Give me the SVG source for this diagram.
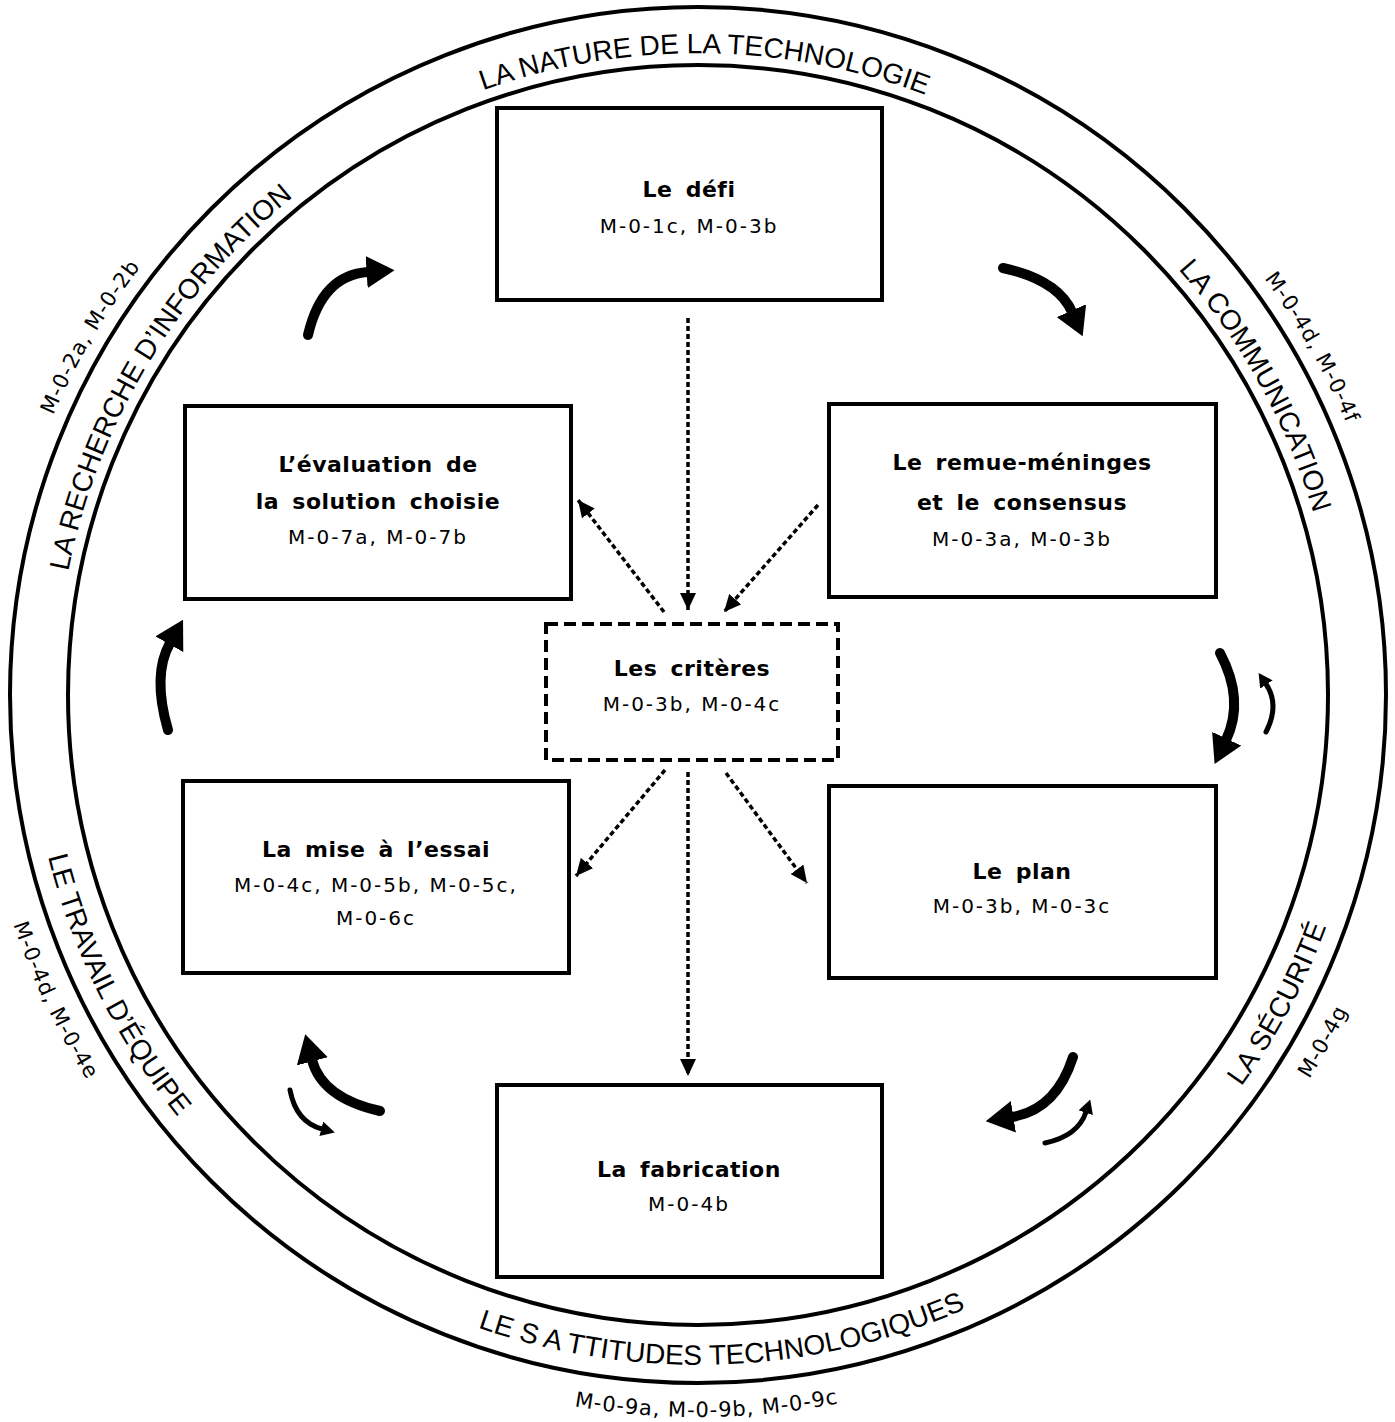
<svg xmlns="http://www.w3.org/2000/svg" width="1395" height="1422" viewBox="0 0 1395 1422">
<style>
  .box { fill: #fff; stroke: #000; stroke-width: 4; }
  .dbox { fill: #fff; stroke: #000; stroke-width: 4; stroke-dasharray: 12 6; }
  .ring { fill: none; stroke: #000; stroke-width: 4; }
  .title { font-family: 'Comic Sans MS', 'DejaVu Sans', sans-serif; font-weight: bold; font-size: 22px; text-anchor: middle; fill: #000; letter-spacing: 0.5px; word-spacing: 5px; }
  .code { font-family: 'Comic Sans MS', 'DejaVu Sans', sans-serif; font-size: 20px; text-anchor: middle; fill: #000; letter-spacing: 2px; }
  .rt { font-family: 'Liberation Sans', Arial, sans-serif; font-size: 28px; fill: #000; }
  .rc { font-family: 'Comic Sans MS', 'DejaVu Sans', sans-serif; font-size: 21px; fill: #000; letter-spacing: 1px; }
  .thick { fill: none; stroke: #000; stroke-width: 10; stroke-linecap: round; }
  .thin { fill: none; stroke: #000; stroke-width: 5; stroke-linecap: round; }
  .dash { fill: none; stroke: #000; stroke-width: 3.5; stroke-dasharray: 5 3; }
</style>
<defs>
  <path id="top642" d="M56,695 A642,642 0 0 1 1340,695"/>
  <path id="top703" d="M-5,695 A703,703 0 0 1 1401,695"/>
  <path id="bot670" d="M28,695 A670,670 0 0 0 1368,695"/>
  <path id="bot722" d="M-24,695 A722,722 0 0 0 1420,695"/>
  <marker id="hk" viewBox="0 0 10 10" refX="0.5" refY="5" markerWidth="2.8" markerHeight="3.2" preserveAspectRatio="none" orient="auto" markerUnits="strokeWidth">
    <path d="M0,0 L10,5 L0,10 Z" fill="#000"/>
  </marker>
  <marker id="hn" viewBox="0 0 10 10" refX="0.5" refY="5" markerWidth="2.8" markerHeight="3" preserveAspectRatio="none" orient="auto" markerUnits="strokeWidth">
    <path d="M0,0 L10,5 L0,10 Z" fill="#000"/>
  </marker>
  <marker id="hd" viewBox="0 0 10 10" refX="10" refY="5" markerWidth="17" markerHeight="16" preserveAspectRatio="none" orient="auto" markerUnits="userSpaceOnUse">
    <path d="M0,0 L10,5 L0,10 Z" fill="#000"/>
  </marker>
</defs>

<g id="rings">
  <circle class="ring" cx="698" cy="695" r="688"/>
  <circle class="ring" cx="698" cy="695" r="630"/>
</g>

<g id="ring-labels">
  <text class="rt" transform="rotate(0.6 698 695)"><textPath href="#top642" startOffset="50%" text-anchor="middle">LA NATURE DE LA TECHNOLOGIE</textPath></text>
  <text class="rt" transform="rotate(-59 698 695)"><textPath href="#top642" startOffset="50%" text-anchor="middle">LA RECHERCHE D’INFORMATION</textPath></text>
  <text class="rc" transform="rotate(-59.5 698 695)"><textPath href="#top703" startOffset="50%" text-anchor="middle">M-0-2a, M-0-2b</textPath></text>
  <text class="rt" transform="rotate(61 698 695)"><textPath href="#top642" startOffset="50%" text-anchor="middle">LA COMMUNICATION</textPath></text>
  <text class="rc" transform="rotate(60.5 698 695)"><textPath href="#top703" startOffset="50%" text-anchor="middle">M-0-4d, M-0-4f</textPath></text>
  <text class="rt" transform="rotate(-2.2 698 695)"><textPath href="#bot670" startOffset="50%" text-anchor="middle">LE S A TTITUDES TECHNOLOGIQUES</textPath></text>
  <text class="rc" transform="rotate(-0.7 698 695)"><textPath href="#bot722" startOffset="50%" text-anchor="middle">M-0-9a, M-0-9b, M-0-9c</textPath></text>
  <text class="rt" transform="rotate(63.5 698 695)"><textPath href="#bot670" startOffset="50%" text-anchor="middle">LE TRAVAIL D’ÉQUIPE</textPath></text>
  <text class="rc" transform="rotate(64.6 698 695)"><textPath href="#bot722" startOffset="50%" text-anchor="middle">M-0-4d, M-0-4e</textPath></text>
  <text class="rt" transform="rotate(-62 698 695)"><textPath href="#bot670" startOffset="50%" text-anchor="middle">LA SÉCURITÉ</textPath></text>
  <text class="rc" transform="rotate(-61 698 695)"><textPath href="#bot722" startOffset="50%" text-anchor="middle">M-0-4g</textPath></text>
</g>

<g id="connectors">
  <path class="dash" d="M688,318 L688,610" marker-end="url(#hd)"/>
  <path class="dash" d="M818,505 L724,612" marker-end="url(#hd)"/>
  <path class="dash" d="M664,612 L578,500" marker-end="url(#hd)"/>
  <path class="dash" d="M665,770 L576,876" marker-end="url(#hd)"/>
  <path class="dash" d="M688,772 L688,1076" marker-end="url(#hd)"/>
  <path class="dash" d="M726,773 L807,883" marker-end="url(#hd)"/>

  <path class="thick" d="M308,335 Q322,275 368,272" marker-end="url(#hk)"/>
  <path class="thick" d="M1003,268 Q1058,280 1072,312" marker-end="url(#hk)"/>
  <path class="thick" d="M1220,653 Q1245,700 1226,740" marker-end="url(#hk)"/>
  <path class="thin" d="M1266,732 Q1280,705 1266,684" marker-end="url(#hn)"/>
  <path class="thick" d="M1073,1057 Q1056,1110 1012,1117" marker-end="url(#hk)"/>
  <path class="thin" d="M1045,1143 Q1078,1136 1086,1112" marker-end="url(#hn)"/>
  <path class="thick" d="M380,1111 Q322,1098 312,1060" marker-end="url(#hk)"/>
  <path class="thin" d="M290,1090 Q296,1122 322,1129" marker-end="url(#hn)"/>
  <path class="thick" d="M168,730 Q152,675 170,643" marker-end="url(#hk)"/>
</g>

<g id="node-defi">
  <rect class="box" x="497" y="108" width="385" height="192"/>
  <text class="title" x="689" y="197">Le défi</text>
  <text class="code" x="689" y="233">M-0-1c, M-0-3b</text>
</g>

<g id="node-remue">
  <rect class="box" x="829" y="404" width="387" height="193"/>
  <text class="title" x="1022" y="470">Le remue-méninges</text>
  <text class="title" x="1022" y="510">et le consensus</text>
  <text class="code" x="1022" y="546">M-0-3a, M-0-3b</text>
</g>

<g id="node-evaluation">
  <rect class="box" x="185" y="406" width="386" height="193"/>
  <text class="title" x="378" y="472">L’évaluation de</text>
  <text class="title" x="378" y="509">la solution choisie</text>
  <text class="code" x="378" y="544">M-0-7a, M-0-7b</text>
</g>

<g id="node-criteres">
  <rect class="dbox" x="546" y="624" width="292" height="136"/>
  <text class="title" x="692" y="676">Les critères</text>
  <text class="code" x="692" y="711">M-0-3b, M-0-4c</text>
</g>

<g id="node-essai">
  <rect class="box" x="183" y="781" width="386" height="192"/>
  <text class="title" x="376" y="857">La mise à l’essai</text>
  <text class="code" x="376" y="892">M-0-4c, M-0-5b, M-0-5c,</text>
  <text class="code" x="376" y="925">M-0-6c</text>
</g>

<g id="node-plan">
  <rect class="box" x="829" y="786" width="387" height="192"/>
  <text class="title" x="1022" y="879">Le plan</text>
  <text class="code" x="1022" y="913">M-0-3b, M-0-3c</text>
</g>

<g id="node-fabrication">
  <rect class="box" x="497" y="1085" width="385" height="192"/>
  <text class="title" x="689" y="1177">La fabrication</text>
  <text class="code" x="689" y="1211">M-0-4b</text>
</g>
</svg>
